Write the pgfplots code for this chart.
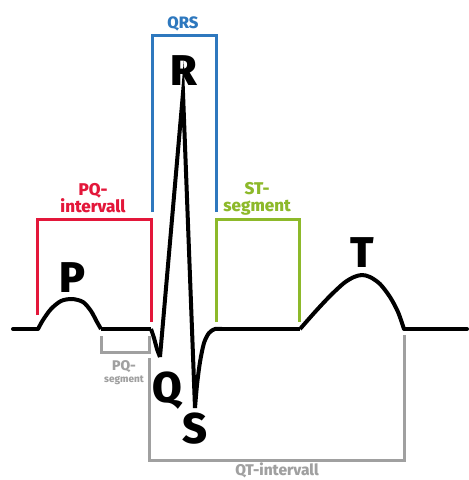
\documentclass[border=0pt]{standalone}
\usepackage{pgfplots}
\pgfplotsset{compat=1.18}
\usepackage{fontspec}
\setmainfont{Fira Sans}[BoldFont={Fira Sans ExtraBold}]
\definecolor{ecgred}{HTML}{E3173A}
\definecolor{ecgblue}{HTML}{2E78BE}
\definecolor{ecggreen}{HTML}{8DB92A}
\definecolor{ecggray}{HTML}{A0A0A0}
\tikzset{lbl/.style={anchor=base, inner sep=0pt}}
\begin{document}
\begin{tikzpicture}
\begin{axis}[
  width=467pt, height=480pt, scale only axis,
  xmin=0, xmax=467, ymin=0, ymax=480, y dir=reverse,
  hide axis, clip=false,
]
\path (rel axis cs:0,0) rectangle (rel axis cs:1,1);
% ECG trace
\addplot[black, line width=4pt, line join=round, line cap=round] coordinates {(13,329) (38,329)};
\addplot[black, line width=4pt, line join=round, smooth] coordinates {(38,329) (43,320) (51,309) (61,301) (72,299) (83,302) (91,311) (97,322) (101,329)};
\addplot[black, line width=4pt, line join=round] coordinates {(101,329) (151,329)};
\addplot[black, line width=4pt, line join=round, smooth] coordinates {(151,329) (154,338) (157,349) (160,357)};
\addplot[black, line width=4pt, line join=miter, miter limit=20] coordinates {(160,357) (183,93) (195,408)};
\addplot[black, line width=4pt, line join=round, smooth] coordinates {(195,408) (197,385) (200,362) (204,343) (209,333) (215,329) (222,329)};
\addplot[black, line width=4pt, line join=round] coordinates {(222,329) (300,329)};
\addplot[black, line width=4pt, line join=round, smooth] coordinates {(300,329) (315,312) (330,296) (344,283) (354,277) (362,275) (370,277) (380,284) (390,297) (398,312) (404,329)};
\addplot[black, line width=4pt, line cap=round] coordinates {(404,329) (467,329)};
% PQ-intervall (red)
\addplot[ecgred, line width=3pt] coordinates {(37,315) (37,219) (151,219) (151,322)};
\node[lbl, ecgred, font=\fontsize{17}{16}\selectfont\bfseries] at (axis cs:93,195) {PQ-};
\node[lbl, ecgred, font=\fontsize{17}{16}\selectfont\bfseries] at (axis cs:93,212) {intervall};
% QRS (blue)
\addplot[ecgblue, line width=3pt] coordinates {(152,212) (152,35) (216,35) (216,212)};
\node[lbl, ecgblue, font=\fontsize{16.5}{16}\selectfont\bfseries] at (axis cs:183,28) {QRS};
% ST-segment (green)
\addplot[ecggreen, line width=3pt] coordinates {(216,322) (216,219) (299,219) (299,322)};
\node[lbl, ecggreen, font=\fontsize{17}{15}\selectfont\bfseries] at (axis cs:257,194) {ST-};
\node[lbl, ecggreen, font=\fontsize{17}{15}\selectfont\bfseries] at (axis cs:257,211) {segment};
% PQ-segment (gray)
\addplot[ecggray, line width=3pt] coordinates {(101,336) (101,352) (149,352) (149,336)};
\node[lbl, ecggray, font=\fontsize{14}{14}\selectfont\bfseries] at (axis cs:124,370) {PQ-};
\node[lbl, ecggray, font=\fontsize{10}{10}\selectfont\bfseries] at (axis cs:124,382) {segment};
% QT-intervall (gray)
\addplot[ecggray, line width=3pt] coordinates {(149,358) (149,460) (404,460) (404,335)};
\node[lbl, ecggray, font=\fontsize{15.5}{15}\selectfont\bfseries] at (axis cs:277,475.5) {QT-intervall};
% Wave letters
\node[lbl, black, font=\fontsize{43}{43}\selectfont\bfseries] at (axis cs:73,292) {P};
\node[lbl, black, font=\fontsize{43}{43}\selectfont\bfseries] at (axis cs:184,85) {R};
\node[lbl, black, font=\fontsize{43}{43}\selectfont\bfseries] at (axis cs:167,402) {Q};
\node[lbl, black, font=\fontsize{43}{43}\selectfont\bfseries] at (axis cs:195,443) {S};
\node[lbl, black, font=\fontsize{43}{43}\selectfont\bfseries] at (axis cs:362,267) {T};
\end{axis}
\end{tikzpicture}
\end{document}
